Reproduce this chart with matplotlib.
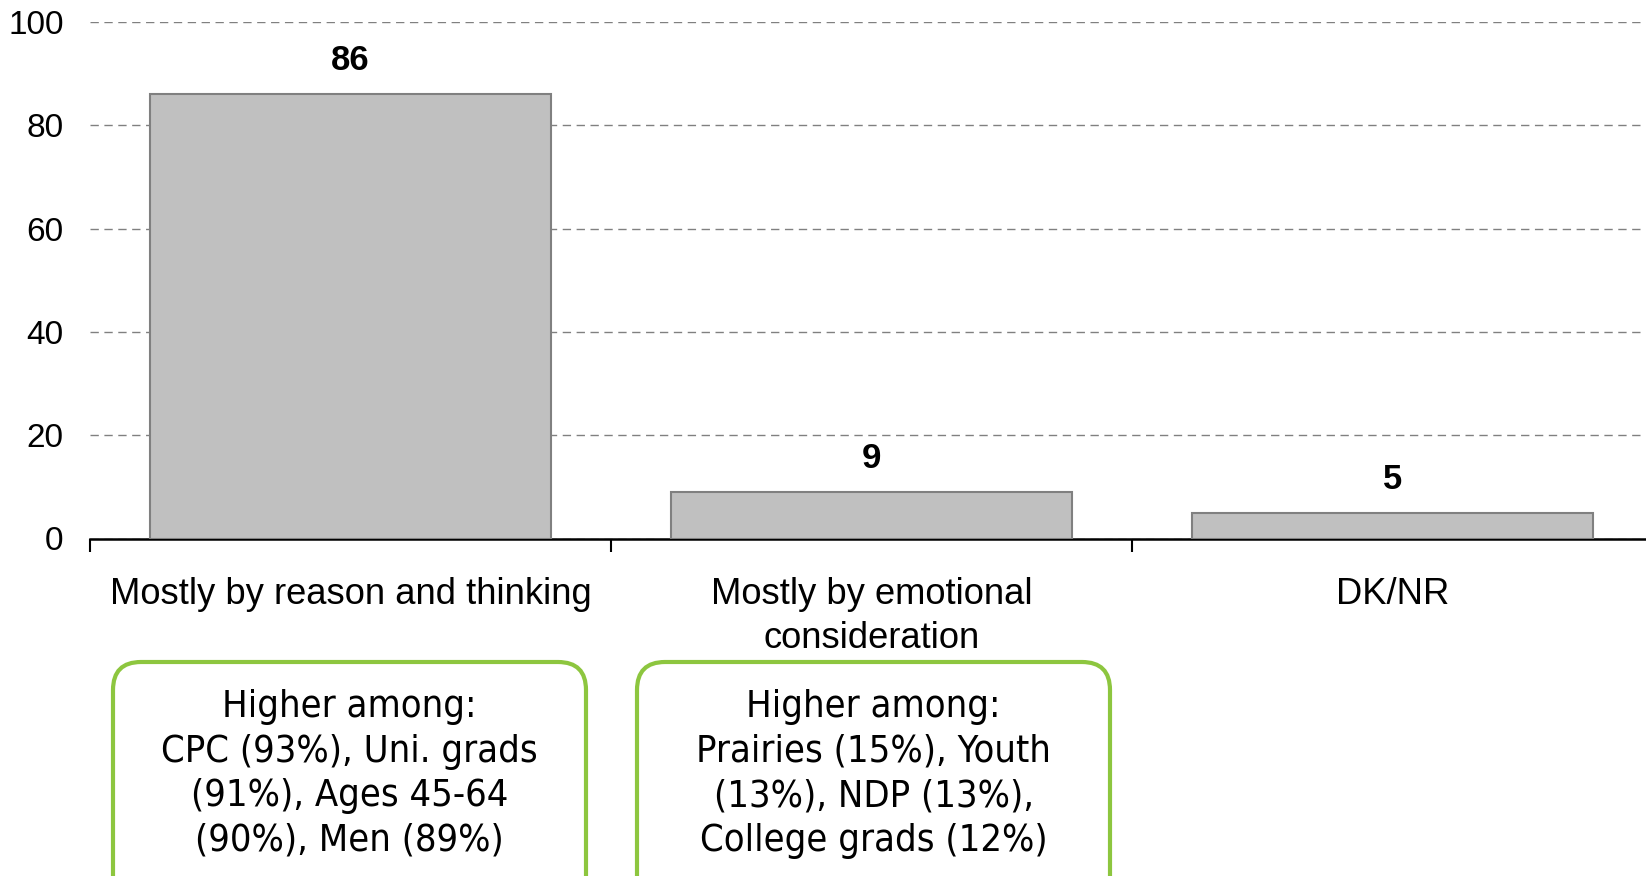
import matplotlib
matplotlib.use("Agg")
import matplotlib.pyplot as plt
from matplotlib.patches import FancyBboxPatch
from matplotlib.transforms import IdentityTransform

categories = ["Mostly by reason and thinking", "Mostly by emotional\nconsideration", "DK/NR"]
values = [86, 9, 5]
yticks = [0, 20, 40, 60, 80, 100]
box_texts = [
    "Higher among:\nCPC (93%), Uni. grads\n(91%), Ages 45-64\n(90%), Men (89%)",
    "Higher among:\nPrairies (15%), Youth\n(13%), NDP (13%),\nCollege grads (12%)",
]

W, H = 1646, 876
fig = plt.figure(figsize=(W / 100, H / 100), dpi=100)
fig.patch.set_facecolor("white")

ax_left, ax_width = 90, 1563
ax_bottom, ax_top = 876 - 538.5, 876 - 22
ax = fig.add_axes([ax_left / W, ax_bottom / H, ax_width / W, (ax_top - ax_bottom) / H])

x = list(range(len(categories)))
bars = ax.bar(x, values, width=0.77, color="#C0C0C0", edgecolor="#808080", linewidth=1.5, zorder=3)

ax.set_xlim(-0.5, 2.5)
ax.set_ylim(0, 100)
ax.set_yticks(yticks)
ax.set_yticklabels([str(v) for v in yticks], fontsize=24, family="Liberation Sans")
ax.tick_params(axis="y", length=0, pad=19)
ax.yaxis.grid(True, color="#808080", linestyle=(0, (6, 4)), linewidth=1)
ax.set_axisbelow(True)

ax.set_xticks(x)
ax.set_xticklabels(categories, fontsize=26.2, family="Liberation Sans", linespacing=1.32)
ax.tick_params(axis="x", which="major", length=0, pad=28)
ax.set_xticks([-0.5, 0.5, 1.5, 2.5], minor=True)
ax.tick_params(axis="x", which="minor", length=9, width=1.5, direction="out", color="black")

for s in ["top", "right", "left"]:
    ax.spines[s].set_visible(False)
ax.spines["bottom"].set_color("black")
ax.spines["bottom"].set_linewidth(1.8)

for xi, v in zip(x, values):
    ax.annotate(str(v), (xi, v), xytext=(0, 24), textcoords="offset points",
                ha="center", va="center", fontsize=25, fontweight="bold", family="Liberation Sans")

# callout boxes (pixel coordinates from bottom)
box_specs = [(113, 586), (637, 1110)]
for (x0, x1), txt in zip(box_specs, box_texts):
    top = H - 662
    patch = FancyBboxPatch((x0, -40), x1 - x0, top + 40,
                           boxstyle="round,pad=0,rounding_size=28",
                           transform=IdentityTransform(), facecolor="white",
                           edgecolor="#8DC63F", linewidth=3, zorder=5)
    fig.patches.append(patch)
    patch.set_figure(fig)
    fig.text((x0 + x1) / 2 / W, 1 - 774 / H, txt, ha="center", va="center",
             fontsize=27.3, family="DejaVu Sans", fontstretch="condensed", linespacing=1.3, zorder=6)

fig.savefig("out.png", dpi=100, facecolor="white")
